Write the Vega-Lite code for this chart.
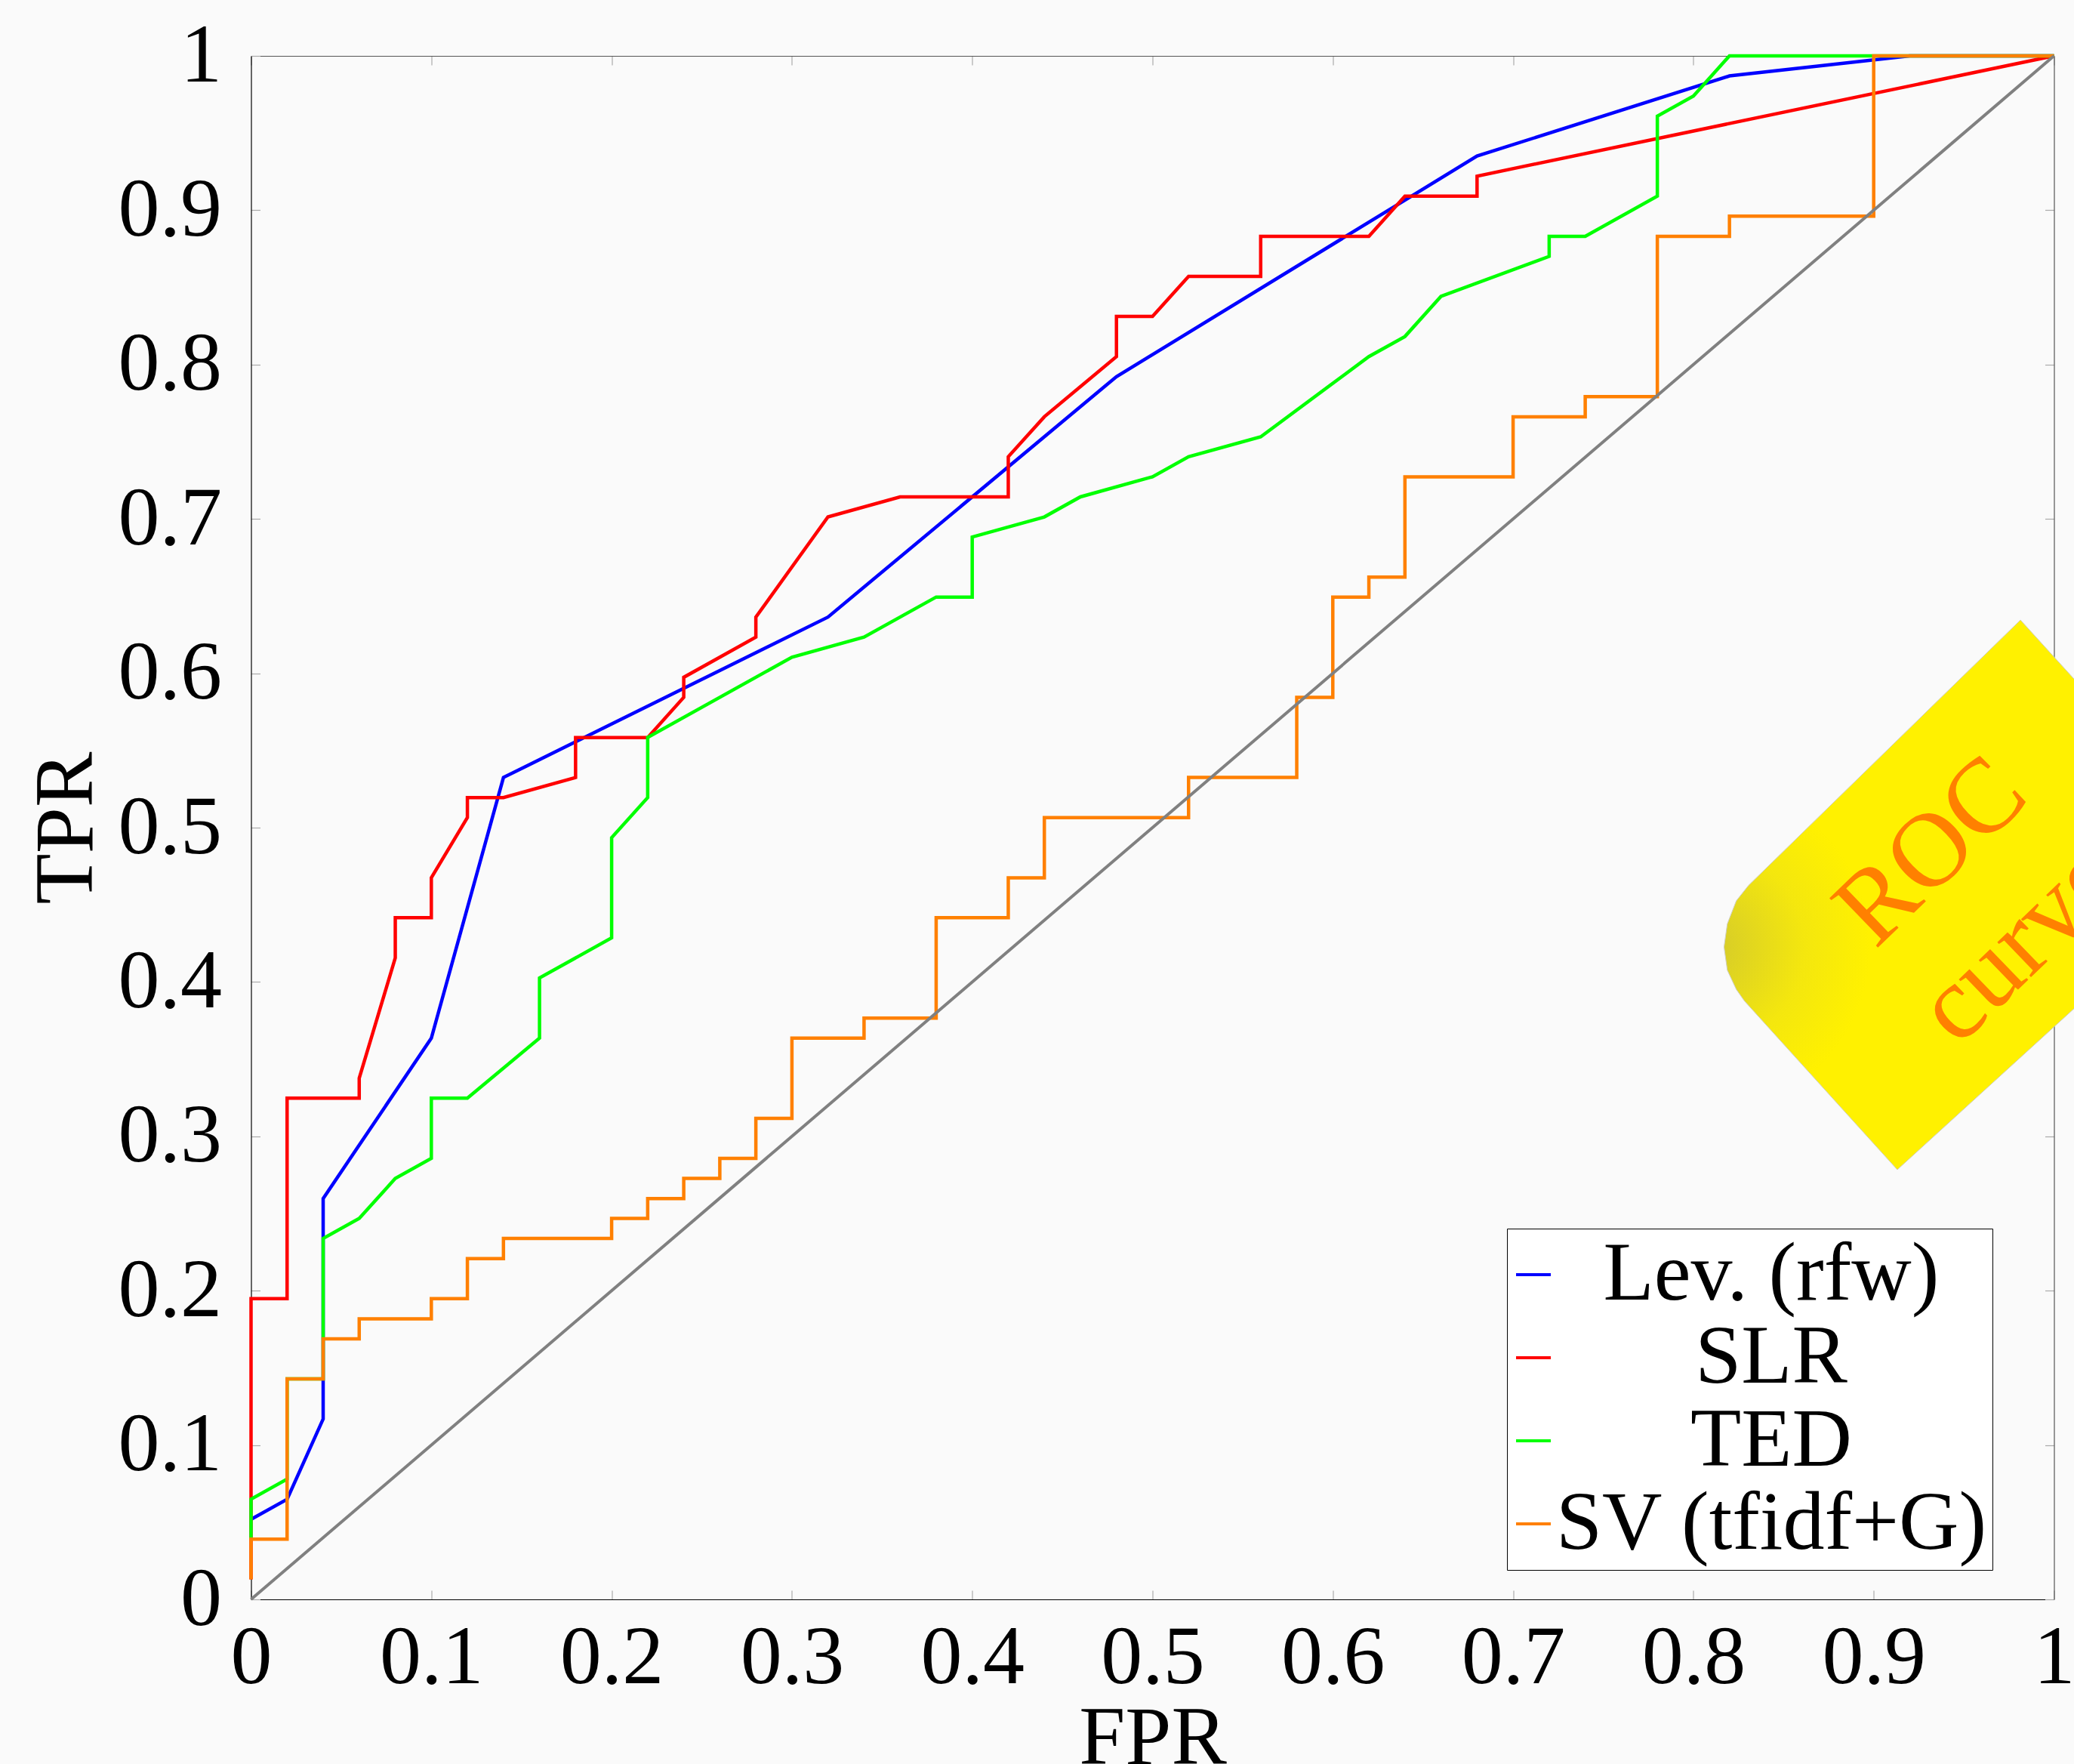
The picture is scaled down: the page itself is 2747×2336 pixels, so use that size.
{
  "$schema": "https://vega.github.io/schema/vega-lite/v6.json",
  "width": 2388,
  "height": 2044,
  "autosize": {"type": "none"},
  "padding": {"left": 332.5, "top": 74, "right": 26.5, "bottom": 218},
  "background": "#fafafa",
  "config": {"view": {"stroke": null}, "font": "Liberation Serif"},
  "datasets": {
    "roc": [
      {"m": "Lev. (rfw)", "i": 0, "fpr": 0, "tpr": 0.0519},
      {"m": "Lev. (rfw)", "i": 1, "fpr": 0.02, "tpr": 0.0649},
      {"m": "Lev. (rfw)", "i": 2, "fpr": 0.04, "tpr": 0.1169},
      {"m": "Lev. (rfw)", "i": 3, "fpr": 0.04, "tpr": 0.2597},
      {"m": "Lev. (rfw)", "i": 4, "fpr": 0.1, "tpr": 0.3636},
      {"m": "Lev. (rfw)", "i": 5, "fpr": 0.14, "tpr": 0.5325},
      {"m": "Lev. (rfw)", "i": 6, "fpr": 0.32, "tpr": 0.6364},
      {"m": "Lev. (rfw)", "i": 7, "fpr": 0.48, "tpr": 0.7922},
      {"m": "Lev. (rfw)", "i": 8, "fpr": 0.68, "tpr": 0.9351},
      {"m": "Lev. (rfw)", "i": 9, "fpr": 0.82, "tpr": 0.987},
      {"m": "Lev. (rfw)", "i": 10, "fpr": 0.92, "tpr": 1},
      {"m": "Lev. (rfw)", "i": 11, "fpr": 1, "tpr": 1},

      {"m": "SLR", "i": 0, "fpr": 0, "tpr": 0.013},
      {"m": "SLR", "i": 1, "fpr": 0, "tpr": 0.1948},
      {"m": "SLR", "i": 2, "fpr": 0.02, "tpr": 0.1948},
      {"m": "SLR", "i": 3, "fpr": 0.02, "tpr": 0.3247},
      {"m": "SLR", "i": 4, "fpr": 0.06, "tpr": 0.3247},
      {"m": "SLR", "i": 5, "fpr": 0.06, "tpr": 0.3377},
      {"m": "SLR", "i": 6, "fpr": 0.08, "tpr": 0.4156},
      {"m": "SLR", "i": 7, "fpr": 0.08, "tpr": 0.4416},
      {"m": "SLR", "i": 8, "fpr": 0.1, "tpr": 0.4416},
      {"m": "SLR", "i": 9, "fpr": 0.1, "tpr": 0.4675},
      {"m": "SLR", "i": 10, "fpr": 0.12, "tpr": 0.5065},
      {"m": "SLR", "i": 11, "fpr": 0.12, "tpr": 0.5195},
      {"m": "SLR", "i": 12, "fpr": 0.14, "tpr": 0.5195},
      {"m": "SLR", "i": 13, "fpr": 0.18, "tpr": 0.5325},
      {"m": "SLR", "i": 14, "fpr": 0.18, "tpr": 0.5584},
      {"m": "SLR", "i": 15, "fpr": 0.22, "tpr": 0.5584},
      {"m": "SLR", "i": 16, "fpr": 0.24, "tpr": 0.5844},
      {"m": "SLR", "i": 17, "fpr": 0.24, "tpr": 0.5974},
      {"m": "SLR", "i": 18, "fpr": 0.28, "tpr": 0.6234},
      {"m": "SLR", "i": 19, "fpr": 0.28, "tpr": 0.6364},
      {"m": "SLR", "i": 20, "fpr": 0.32, "tpr": 0.7013},
      {"m": "SLR", "i": 21, "fpr": 0.36, "tpr": 0.7143},
      {"m": "SLR", "i": 22, "fpr": 0.42, "tpr": 0.7143},
      {"m": "SLR", "i": 23, "fpr": 0.42, "tpr": 0.7403},
      {"m": "SLR", "i": 24, "fpr": 0.44, "tpr": 0.7662},
      {"m": "SLR", "i": 25, "fpr": 0.48, "tpr": 0.8052},
      {"m": "SLR", "i": 26, "fpr": 0.48, "tpr": 0.8312},
      {"m": "SLR", "i": 27, "fpr": 0.5, "tpr": 0.8312},
      {"m": "SLR", "i": 28, "fpr": 0.52, "tpr": 0.8571},
      {"m": "SLR", "i": 29, "fpr": 0.56, "tpr": 0.8571},
      {"m": "SLR", "i": 30, "fpr": 0.56, "tpr": 0.8831},
      {"m": "SLR", "i": 31, "fpr": 0.62, "tpr": 0.8831},
      {"m": "SLR", "i": 32, "fpr": 0.64, "tpr": 0.9091},
      {"m": "SLR", "i": 33, "fpr": 0.68, "tpr": 0.9091},
      {"m": "SLR", "i": 34, "fpr": 0.68, "tpr": 0.9221},
      {"m": "SLR", "i": 35, "fpr": 1, "tpr": 1},

      {"m": "TED", "i": 0, "fpr": 0, "tpr": 0.039},
      {"m": "TED", "i": 1, "fpr": 0, "tpr": 0.0649},
      {"m": "TED", "i": 2, "fpr": 0.02, "tpr": 0.0779},
      {"m": "TED", "i": 3, "fpr": 0.02, "tpr": 0.1429},
      {"m": "TED", "i": 4, "fpr": 0.04, "tpr": 0.1429},
      {"m": "TED", "i": 5, "fpr": 0.04, "tpr": 0.2338},
      {"m": "TED", "i": 6, "fpr": 0.06, "tpr": 0.2468},
      {"m": "TED", "i": 7, "fpr": 0.08, "tpr": 0.2727},
      {"m": "TED", "i": 8, "fpr": 0.1, "tpr": 0.2857},
      {"m": "TED", "i": 9, "fpr": 0.1, "tpr": 0.3247},
      {"m": "TED", "i": 10, "fpr": 0.12, "tpr": 0.3247},
      {"m": "TED", "i": 11, "fpr": 0.16, "tpr": 0.3636},
      {"m": "TED", "i": 12, "fpr": 0.16, "tpr": 0.4026},
      {"m": "TED", "i": 13, "fpr": 0.2, "tpr": 0.4286},
      {"m": "TED", "i": 14, "fpr": 0.2, "tpr": 0.4935},
      {"m": "TED", "i": 15, "fpr": 0.22, "tpr": 0.5195},
      {"m": "TED", "i": 16, "fpr": 0.22, "tpr": 0.5584},
      {"m": "TED", "i": 17, "fpr": 0.3, "tpr": 0.6104},
      {"m": "TED", "i": 18, "fpr": 0.34, "tpr": 0.6234},
      {"m": "TED", "i": 19, "fpr": 0.38, "tpr": 0.6494},
      {"m": "TED", "i": 20, "fpr": 0.4, "tpr": 0.6494},
      {"m": "TED", "i": 21, "fpr": 0.4, "tpr": 0.6883},
      {"m": "TED", "i": 22, "fpr": 0.44, "tpr": 0.7013},
      {"m": "TED", "i": 23, "fpr": 0.46, "tpr": 0.7143},
      {"m": "TED", "i": 24, "fpr": 0.5, "tpr": 0.7273},
      {"m": "TED", "i": 25, "fpr": 0.52, "tpr": 0.7403},
      {"m": "TED", "i": 26, "fpr": 0.56, "tpr": 0.7532},
      {"m": "TED", "i": 27, "fpr": 0.62, "tpr": 0.8052},
      {"m": "TED", "i": 28, "fpr": 0.64, "tpr": 0.8182},
      {"m": "TED", "i": 29, "fpr": 0.66, "tpr": 0.8442},
      {"m": "TED", "i": 30, "fpr": 0.72, "tpr": 0.8701},
      {"m": "TED", "i": 31, "fpr": 0.72, "tpr": 0.8831},
      {"m": "TED", "i": 32, "fpr": 0.74, "tpr": 0.8831},
      {"m": "TED", "i": 33, "fpr": 0.78, "tpr": 0.9091},
      {"m": "TED", "i": 34, "fpr": 0.78, "tpr": 0.961},
      {"m": "TED", "i": 35, "fpr": 0.8, "tpr": 0.974},
      {"m": "TED", "i": 36, "fpr": 0.82, "tpr": 1},
      {"m": "TED", "i": 37, "fpr": 1, "tpr": 1},

      {"m": "SV (tfidf+G)", "i": 0, "fpr": 0, "tpr": 0.013},
      {"m": "SV (tfidf+G)", "i": 1, "fpr": 0, "tpr": 0.039},
      {"m": "SV (tfidf+G)", "i": 2, "fpr": 0.02, "tpr": 0.039},
      {"m": "SV (tfidf+G)", "i": 3, "fpr": 0.02, "tpr": 0.1429},
      {"m": "SV (tfidf+G)", "i": 4, "fpr": 0.04, "tpr": 0.1429},
      {"m": "SV (tfidf+G)", "i": 5, "fpr": 0.04, "tpr": 0.1688},
      {"m": "SV (tfidf+G)", "i": 6, "fpr": 0.06, "tpr": 0.1688},
      {"m": "SV (tfidf+G)", "i": 7, "fpr": 0.06, "tpr": 0.1818},
      {"m": "SV (tfidf+G)", "i": 8, "fpr": 0.1, "tpr": 0.1818},
      {"m": "SV (tfidf+G)", "i": 9, "fpr": 0.1, "tpr": 0.1948},
      {"m": "SV (tfidf+G)", "i": 10, "fpr": 0.12, "tpr": 0.1948},
      {"m": "SV (tfidf+G)", "i": 11, "fpr": 0.12, "tpr": 0.2208},
      {"m": "SV (tfidf+G)", "i": 12, "fpr": 0.14, "tpr": 0.2208},
      {"m": "SV (tfidf+G)", "i": 13, "fpr": 0.14, "tpr": 0.2338},
      {"m": "SV (tfidf+G)", "i": 14, "fpr": 0.2, "tpr": 0.2338},
      {"m": "SV (tfidf+G)", "i": 15, "fpr": 0.2, "tpr": 0.2468},
      {"m": "SV (tfidf+G)", "i": 16, "fpr": 0.22, "tpr": 0.2468},
      {"m": "SV (tfidf+G)", "i": 17, "fpr": 0.22, "tpr": 0.2597},
      {"m": "SV (tfidf+G)", "i": 18, "fpr": 0.24, "tpr": 0.2597},
      {"m": "SV (tfidf+G)", "i": 19, "fpr": 0.24, "tpr": 0.2727},
      {"m": "SV (tfidf+G)", "i": 20, "fpr": 0.26, "tpr": 0.2727},
      {"m": "SV (tfidf+G)", "i": 21, "fpr": 0.26, "tpr": 0.2857},
      {"m": "SV (tfidf+G)", "i": 22, "fpr": 0.28, "tpr": 0.2857},
      {"m": "SV (tfidf+G)", "i": 23, "fpr": 0.28, "tpr": 0.3117},
      {"m": "SV (tfidf+G)", "i": 24, "fpr": 0.3, "tpr": 0.3117},
      {"m": "SV (tfidf+G)", "i": 25, "fpr": 0.3, "tpr": 0.3636},
      {"m": "SV (tfidf+G)", "i": 26, "fpr": 0.34, "tpr": 0.3636},
      {"m": "SV (tfidf+G)", "i": 27, "fpr": 0.34, "tpr": 0.3766},
      {"m": "SV (tfidf+G)", "i": 28, "fpr": 0.38, "tpr": 0.3766},
      {"m": "SV (tfidf+G)", "i": 29, "fpr": 0.38, "tpr": 0.4416},
      {"m": "SV (tfidf+G)", "i": 30, "fpr": 0.42, "tpr": 0.4416},
      {"m": "SV (tfidf+G)", "i": 31, "fpr": 0.42, "tpr": 0.4675},
      {"m": "SV (tfidf+G)", "i": 32, "fpr": 0.44, "tpr": 0.4675},
      {"m": "SV (tfidf+G)", "i": 33, "fpr": 0.44, "tpr": 0.5065},
      {"m": "SV (tfidf+G)", "i": 34, "fpr": 0.52, "tpr": 0.5065},
      {"m": "SV (tfidf+G)", "i": 35, "fpr": 0.52, "tpr": 0.5325},
      {"m": "SV (tfidf+G)", "i": 36, "fpr": 0.58, "tpr": 0.5325},
      {"m": "SV (tfidf+G)", "i": 37, "fpr": 0.58, "tpr": 0.5844},
      {"m": "SV (tfidf+G)", "i": 38, "fpr": 0.6, "tpr": 0.5844},
      {"m": "SV (tfidf+G)", "i": 39, "fpr": 0.6, "tpr": 0.6494},
      {"m": "SV (tfidf+G)", "i": 40, "fpr": 0.62, "tpr": 0.6494},
      {"m": "SV (tfidf+G)", "i": 41, "fpr": 0.62, "tpr": 0.6623},
      {"m": "SV (tfidf+G)", "i": 42, "fpr": 0.64, "tpr": 0.6623},
      {"m": "SV (tfidf+G)", "i": 43, "fpr": 0.64, "tpr": 0.7273},
      {"m": "SV (tfidf+G)", "i": 44, "fpr": 0.7, "tpr": 0.7273},
      {"m": "SV (tfidf+G)", "i": 45, "fpr": 0.7, "tpr": 0.7662},
      {"m": "SV (tfidf+G)", "i": 46, "fpr": 0.74, "tpr": 0.7662},
      {"m": "SV (tfidf+G)", "i": 47, "fpr": 0.74, "tpr": 0.7792},
      {"m": "SV (tfidf+G)", "i": 48, "fpr": 0.78, "tpr": 0.7792},
      {"m": "SV (tfidf+G)", "i": 49, "fpr": 0.78, "tpr": 0.8831},
      {"m": "SV (tfidf+G)", "i": 50, "fpr": 0.82, "tpr": 0.8831},
      {"m": "SV (tfidf+G)", "i": 51, "fpr": 0.82, "tpr": 0.8961},
      {"m": "SV (tfidf+G)", "i": 52, "fpr": 0.9, "tpr": 0.8961},
      {"m": "SV (tfidf+G)", "i": 53, "fpr": 0.9, "tpr": 1},
      {"m": "SV (tfidf+G)", "i": 54, "fpr": 1, "tpr": 1}
    ],
    "diag": [{"fpr": 0, "tpr": 0}, {"fpr": 1, "tpr": 1}],
    "badge": [
      {"i": 0, "fpr": 0.9814, "tpr": 0.6345},
      {"i": 1, "fpr": 1.102, "tpr": 0.4795},
      {"i": 2, "fpr": 0.9131, "tpr": 0.2784},
      {"i": 3, "fpr": 0.8283, "tpr": 0.3877},
      {"i": 4, "fpr": 0.8238, "tpr": 0.3952},
      {"i": 5, "fpr": 0.8188, "tpr": 0.4077},
      {"i": 6, "fpr": 0.817, "tpr": 0.4227},
      {"i": 7, "fpr": 0.8188, "tpr": 0.4376},
      {"i": 8, "fpr": 0.8238, "tpr": 0.4526},
      {"i": 9, "fpr": 0.8306, "tpr": 0.4626},
      {"i": 10, "fpr": 0.9814, "tpr": 0.6345}
    ],
    "badgeText": [
      {"t": "ROC", "fpr": 0.932, "tpr": 0.4843},
      {"t": "curve", "fpr": 0.9812, "tpr": 0.4249}
    ]
  },
  "layer": [
    {
      "data": {"name": "badge"},
      "mark": {
        "type": "line",
        "filled": true,
        "fill": {
          "gradient": "radial",
          "x1": 0, "y1": 0.595, "r1": 0,
          "x2": 0, "y2": 0.595, "r2": 0.3,
          "stops": [
            {"offset": 0, "color": "#d3c92c"},
            {"offset": 0.6, "color": "#f4e70e"},
            {"offset": 1, "color": "#fff100"}
          ]
        },
        "stroke": "#cfcfbf",
        "strokeWidth": 1
      },
      "encoding": {
        "x": {"field": "fpr", "type": "quantitative", "scale": {"domain": [0, 1], "nice": false, "zero": false}, "axis": null},
        "y": {"field": "tpr", "type": "quantitative", "scale": {"domain": [0, 1], "nice": false, "zero": false}, "axis": null},
        "order": {"field": "i", "type": "quantitative"}
      }
    },
    {
      "data": {"name": "roc"},
      "mark": {"type": "line", "strokeWidth": 4.5},
      "encoding": {
        "x": {
          "field": "fpr", "type": "quantitative",
          "scale": {"domain": [0, 1], "nice": false, "zero": false},
          "axis": {
            "orient": "bottom", "title": "FPR",
            "values": [0, 0.1, 0.2, 0.3, 0.4, 0.5, 0.6, 0.7, 0.8, 0.9, 1],
            "format": ".1~f",
            "labelFont": "Liberation Serif", "labelFontSize": 110, "labelColor": "#000000",
            "labelFlush": false, "labelOverlap": false, "labelPadding": 35.5,
            "tickSize": -12, "tickColor": "#aaaaaa", "tickWidth": 1.2,
            "domainColor": "#000000", "domainWidth": 1.2, "grid": false,
            "titleFont": "Liberation Serif", "titleFontSize": 110, "titleFontWeight": "normal",
            "titleColor": "#000000", "titleY": 130, "titleBaseline": "top"
          }
        },
        "y": {
          "field": "tpr", "type": "quantitative",
          "scale": {"domain": [0, 1], "nice": false, "zero": false},
          "axis": {
            "orient": "left", "title": "TPR",
            "values": [0, 0.1, 0.2, 0.3, 0.4, 0.5, 0.6, 0.7, 0.8, 0.9, 1],
            "format": ".1~f",
            "labelFont": "Liberation Serif", "labelFontSize": 110, "labelColor": "#000000",
            "labelFlush": false, "labelOverlap": false, "labelPadding": 51,
            "tickSize": -12, "tickColor": "#aaaaaa", "tickWidth": 1.2,
            "domainColor": "#000000", "domainWidth": 1.2, "grid": false,
            "titleFont": "Liberation Serif", "titleFontSize": 110, "titleFontWeight": "normal",
            "titleColor": "#000000", "titleAngle": 270, "titleBaseline": "bottom", "titleX": -187.7
          }
        },
        "color": {
          "field": "m", "type": "nominal",
          "scale": {
            "domain": ["Lev. (rfw)", "SLR", "TED", "SV (tfidf+G)"],
            "range": ["#0000ff", "#ff0000", "#00ff00", "#ff8000"]
          },
          "legend": {
            "orient": "none", "legendX": 1663.5, "legendY": 1553,
            "title": null,
            "symbolType": "stroke", "symbolSize": 2116, "symbolStrokeWidth": 4,
            "symbolOffset": -26,
            "labelFont": "Liberation Serif", "labelFontSize": 110, "labelColor": "#000000",
            "labelAlign": "center", "labelOffset": 260, "labelLimit": 3000,
            "padding": 6, "fillColor": "#ffffff", "strokeColor": "#000000",
            "rowPadding": 0
          }
        },
        "order": {"field": "i", "type": "quantitative"}
      }
    },
    {
      "data": {"name": "diag"},
      "mark": {"type": "line", "color": "#808080", "strokeWidth": 4},
      "encoding": {
        "x": {
          "field": "fpr", "type": "quantitative",
          "scale": {"domain": [0, 1], "nice": false, "zero": false},
          "axis": {
            "orient": "top", "title": null, "labels": false,
            "values": [0, 0.1, 0.2, 0.3, 0.4, 0.5, 0.6, 0.7, 0.8, 0.9, 1],
            "tickSize": -12, "tickColor": "#aaaaaa", "tickWidth": 1.2,
            "domainColor": "#555555", "domainWidth": 1.2, "grid": false
          }
        },
        "y": {
          "field": "tpr", "type": "quantitative",
          "scale": {"domain": [0, 1], "nice": false, "zero": false},
          "axis": {
            "orient": "right", "title": null, "labels": false,
            "values": [0, 0.1, 0.2, 0.3, 0.4, 0.5, 0.6, 0.7, 0.8, 0.9, 1],
            "tickSize": -12, "tickColor": "#aaaaaa", "tickWidth": 1.2,
            "domainColor": "#555555", "domainWidth": 1.2, "grid": false
          }
        }
      }
    },
    {
      "data": {"name": "badgeText"},
      "mark": {
        "type": "text", "angle": 316, "font": "Liberation Serif", "fontSize": 140,
        "color": "#ff8000", "align": "center", "baseline": "middle"
      },
      "encoding": {
        "x": {"field": "fpr", "type": "quantitative", "scale": {"domain": [0, 1], "nice": false, "zero": false}, "axis": null},
        "y": {"field": "tpr", "type": "quantitative", "scale": {"domain": [0, 1], "nice": false, "zero": false}, "axis": null},
        "text": {"field": "t", "type": "nominal"}
      }
    }
  ],
  "resolve": {"axis": {"x": "independent", "y": "independent"}}
}
